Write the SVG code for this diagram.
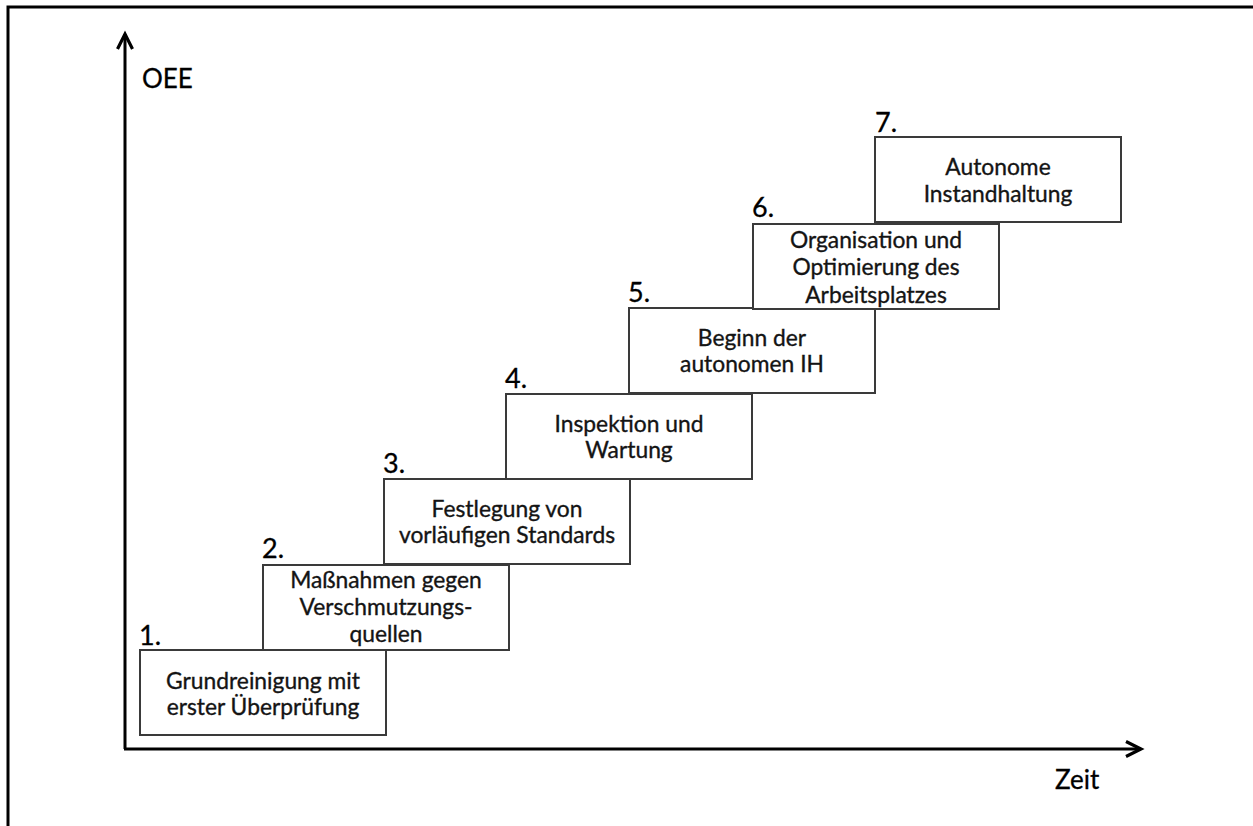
<svg xmlns="http://www.w3.org/2000/svg" width="1253" height="826" viewBox="0 0 1253 826">
  <style>
    .frame { fill: none; stroke: #000; stroke-width: 3; }
    .axis { fill: none; stroke: #000; stroke-width: 3; }
    .step { fill: #fff; stroke: #3a3a3a; stroke-width: 2; }
    .txt { font-family: Lato, "Open Sans", "Liberation Sans", sans-serif; font-size: 22.8px; fill: #141414; stroke: #141414; stroke-width: 0.35; text-anchor: middle; }
    .num { font-family: Lato, "Open Sans", "Liberation Sans", sans-serif; font-size: 27px; fill: #000; stroke: #000; stroke-width: 0.3; }
    .axlbl { font-family: Lato, "Open Sans", "Liberation Sans", sans-serif; font-size: 26px; fill: #000; stroke: #000; stroke-width: 0.3; }
  </style>
  <defs>
    <marker id="chevron" markerUnits="userSpaceOnUse" markerWidth="20" markerHeight="20" viewBox="-16 -10 20 20" refX="0" refY="0" orient="auto">
      <path d="M-15,-7.5 L0,0 L-15,7.5" fill="none" stroke="#000" stroke-width="3.2" stroke-linejoin="miter"/>
    </marker>
  </defs>

  <rect width="1253" height="826" fill="#fff"/>

  <!-- outer frame (top and left edges) -->
  <path class="frame" d="M8,826 V7 H1253"/>

  <!-- axes -->
  <g id="connectors">
    <path class="axis" d="M125,749 V34" marker-end="url(#chevron)"/>
    <path class="axis" d="M124,749 H1141" marker-end="url(#chevron)"/>
  </g>
  <text class="axlbl" x="142" y="88">OEE</text>
  <text class="axlbl" x="1055" y="789">Zeit</text>

  <!-- step 1 -->
  <g id="step1">
    <rect class="step" x="140" y="650" width="246" height="85"/>
    <text class="num" x="139" y="645">1.</text>
    <text class="txt" x="263" y="689">Grundreinigung mit</text>
    <text class="txt" x="263" y="715">erster Überprüfung</text>
  </g>

  <!-- step 2 -->
  <g id="step2">
    <rect class="step" x="263" y="565" width="246" height="85"/>
    <text class="num" x="262" y="558">2.</text>
    <text class="txt" x="386" y="588">Maßnahmen gegen</text>
    <text class="txt" x="386" y="615">Verschmutzungs-</text>
    <text class="txt" x="386" y="642">quellen</text>
  </g>

  <!-- step 3 -->
  <g id="step3">
    <rect class="step" x="384" y="479" width="246" height="85"/>
    <text class="num" x="383" y="473">3.</text>
    <text class="txt" x="507" y="517">Festlegung von</text>
    <text class="txt" x="507" y="543">vorläufigen Standards</text>
  </g>

  <!-- step 4 -->
  <g id="step4">
    <rect class="step" x="506" y="394" width="246" height="85"/>
    <text class="num" x="505" y="388">4.</text>
    <text class="txt" x="629" y="432">Inspektion und</text>
    <text class="txt" x="629" y="458">Wartung</text>
  </g>

  <!-- step 5 -->
  <g id="step5">
    <rect class="step" x="629" y="308" width="246" height="85"/>
    <text class="num" x="628" y="302">5.</text>
    <text class="txt" x="752" y="346">Beginn der</text>
    <text class="txt" x="752" y="372">autonomen IH</text>
  </g>

  <!-- step 6 -->
  <g id="step6">
    <rect class="step" x="753" y="224" width="246" height="85"/>
    <text class="num" x="752" y="217">6.</text>
    <text class="txt" x="876" y="248">Organisation und</text>
    <text class="txt" x="876" y="275">Optimierung des</text>
    <text class="txt" x="876" y="303">Arbeitsplatzes</text>
  </g>

  <!-- step 7 -->
  <g id="step7">
    <rect class="step" x="875" y="137" width="246" height="85"/>
    <text class="num" x="875" y="132">7.</text>
    <text class="txt" x="998" y="175">Autonome</text>
    <text class="txt" x="998" y="202">Instandhaltung</text>
  </g>
</svg>
